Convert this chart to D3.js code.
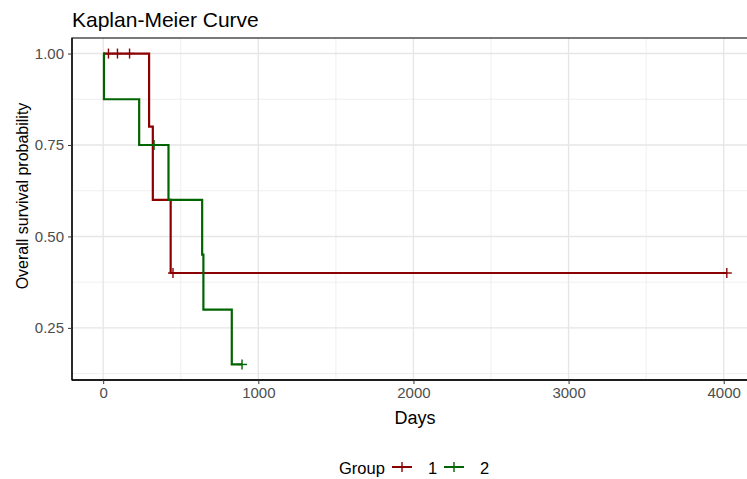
<!DOCTYPE html>
<html>
<head>
<meta charset="utf-8">
<script src="https://cdn.jsdelivr.net/npm/d3@7"></script>
<style>
  html, body { margin: 0; padding: 0; background: #fff; }
  svg { display: block; font-family: "Liberation Sans", Arial, sans-serif; }
</style>
</head>
<body>
<svg id="chart" width="747" height="479"></svg>
<script>
// ---- data ----
const groups = ["1", "2"];
const groupColors = ["#8b0000", "#006400"];
// step points of each survival curve (time in days, survival probability)
const g1Times = [0, 296, 320, 435, 4020];
const g1Surv  = [1.0, 0.8, 0.6, 0.4, 0.4];
const g2Times = [0, 5, 232, 421, 638, 646, 829, 895];
const g2Surv  = [1.0, 0.875, 0.75, 0.6, 0.45, 0.3, 0.15, 0.15];
// censoring marks
const g1CensorTimes = [34, 92, 170, 450, 4020];
const g1CensorSurv  = [1.0, 1.0, 1.0, 0.4, 0.4];
const g2CensorTimes = [328, 895];
const g2CensorSurv  = [0.75, 0.15];
const xTicks = [0, 1000, 2000, 3000, 4000];
const xMinor = [500, 1500, 2500, 3500];
const yTicks = [0.25, 0.50, 0.75, 1.00];
const yMinor = [0.125, 0.375, 0.625, 0.875];
const titleText = "Kaplan-Meier Curve";
const xTitle = "Days";
const yTitle = "Overall survival probability";
const legendTitle = "Group";

// ---- layout ----
const svg = d3.select("#chart");
const pLeft = 72, pRight = 758, pTop = 38, pBottom = 380;
const x = d3.scaleLinear().domain([-201, 4221]).range([pLeft, pRight]);
const y = d3.scaleLinear().domain([0.1075, 1.0425]).range([pBottom, pTop]);

// grid
const grid = svg.append("g");
grid.selectAll(".xmin").data(xMinor).join("line")
  .attr("x1", d => x(d)).attr("x2", d => x(d)).attr("y1", pTop).attr("y2", pBottom)
  .attr("stroke", "#ebebeb").attr("stroke-width", 0.8);
grid.selectAll(".ymin").data(yMinor).join("line")
  .attr("y1", d => y(d)).attr("y2", d => y(d)).attr("x1", pLeft).attr("x2", pRight)
  .attr("stroke", "#ebebeb").attr("stroke-width", 0.8);
grid.selectAll(".xmaj").data(xTicks).join("line")
  .attr("x1", d => x(d)).attr("x2", d => x(d)).attr("y1", pTop).attr("y2", pBottom)
  .attr("stroke", "#e6e6e6").attr("stroke-width", 1.4);
grid.selectAll(".ymaj").data(yTicks).join("line")
  .attr("y1", d => y(d)).attr("y2", d => y(d)).attr("x1", pLeft).attr("x2", pRight)
  .attr("stroke", "#e6e6e6").attr("stroke-width", 1.4);

// clip
svg.append("clipPath").attr("id", "clip").append("rect")
  .attr("x", pLeft).attr("y", pTop).attr("width", pRight - pLeft).attr("height", pBottom - pTop);

const plot = svg.append("g").attr("clip-path", "url(#clip)");
const line = d3.line().x(d => x(d[0])).y(d => y(d[1])).curve(d3.curveStepAfter);
const curves = [
  {t: g1Times, s: g1Surv, ct: g1CensorTimes, cs: g1CensorSurv},
  {t: g2Times, s: g2Surv, ct: g2CensorTimes, cs: g2CensorSurv}
];
curves.forEach((c, i) => {
  const pts = c.t.map((t, j) => [t, c.s[j]]);
  plot.append("path").attr("d", line(pts)).attr("fill", "none")
    .attr("stroke", groupColors[i]).attr("stroke-width", 2.2);
  const m = c.ct.map((t, j) => [t, c.cs[j]]);
  const g = plot.append("g").attr("stroke", groupColors[i]).attr("stroke-width", 1.4);
  g.selectAll(".h").data(m).join("line")
    .attr("x1", d => x(d[0]) - 5).attr("x2", d => x(d[0]) + 5)
    .attr("y1", d => y(d[1])).attr("y2", d => y(d[1]));
  g.selectAll(".v").data(m).join("line")
    .attr("x1", d => x(d[0])).attr("x2", d => x(d[0]))
    .attr("y1", d => y(d[1]) - 5).attr("y2", d => y(d[1]) + 5);
});

// panel border and axes
svg.append("rect").attr("x", pLeft).attr("y", pTop).attr("width", pRight - pLeft).attr("height", pBottom - pTop)
  .attr("fill", "none").attr("stroke", "#333").attr("stroke-width", 1.3);

const xAxis = d3.axisBottom(x).tickValues(xTicks).tickFormat(d3.format("d")).tickSize(4).tickPadding(3);
const gx = svg.append("g").attr("transform", `translate(0,${pBottom})`).call(xAxis);
gx.select(".domain").attr("stroke", "#000").attr("stroke-width", 1.3).attr("d", `M${pLeft},0H${pRight}`);
gx.selectAll(".tick line").attr("stroke", "#333");
gx.selectAll(".tick text").attr("fill", "#4d4d4d").attr("font-size", 15)
  .attr("font-family", "Liberation Sans, Arial, sans-serif");

const yAxis = d3.axisLeft(y).tickValues(yTicks).tickFormat(d3.format(".2f")).tickSize(4).tickPadding(4);
const gy = svg.append("g").attr("transform", `translate(${pLeft},0)`).call(yAxis);
gy.select(".domain").attr("stroke", "#000").attr("stroke-width", 1.3).attr("d", `M0,${pTop}V${pBottom}`);
gy.selectAll(".tick line").attr("stroke", "#333");
gy.selectAll(".tick text").attr("fill", "#4d4d4d").attr("font-size", 15)
  .attr("font-family", "Liberation Sans, Arial, sans-serif");

// titles
svg.append("text").attr("x", pLeft).attr("y", 27).attr("font-size", 21).attr("fill", "#000").text(titleText);
svg.append("text").attr("x", (pLeft + pRight) / 2).attr("y", 424).attr("text-anchor", "middle")
  .attr("font-size", 18).attr("fill", "#000").text(xTitle);
svg.append("text").attr("transform", "translate(28,196) rotate(-90)").attr("text-anchor", "middle")
  .attr("font-size", 16).attr("fill", "#000").text(yTitle);

// legend
const lg = svg.append("g");
lg.append("text").attr("x", 339).attr("y", 474).attr("font-size", 16.5).attr("fill", "#000").text(legendTitle);
const keyX = [392, 444];
groups.forEach((gname, i) => {
  const kx = keyX[i];
  lg.append("line").attr("x1", kx).attr("x2", kx + 20).attr("y1", 467).attr("y2", 467)
    .attr("stroke", groupColors[i]).attr("stroke-width", 2);
  lg.append("line").attr("x1", kx + 10).attr("x2", kx + 10).attr("y1", 462).attr("y2", 472)
    .attr("stroke", groupColors[i]).attr("stroke-width", 1.4);
  lg.append("text").attr("x", kx + 36).attr("y", 474).attr("font-size", 16.5).attr("fill", "#000").text(gname);
});
</script>
</body>
</html>
